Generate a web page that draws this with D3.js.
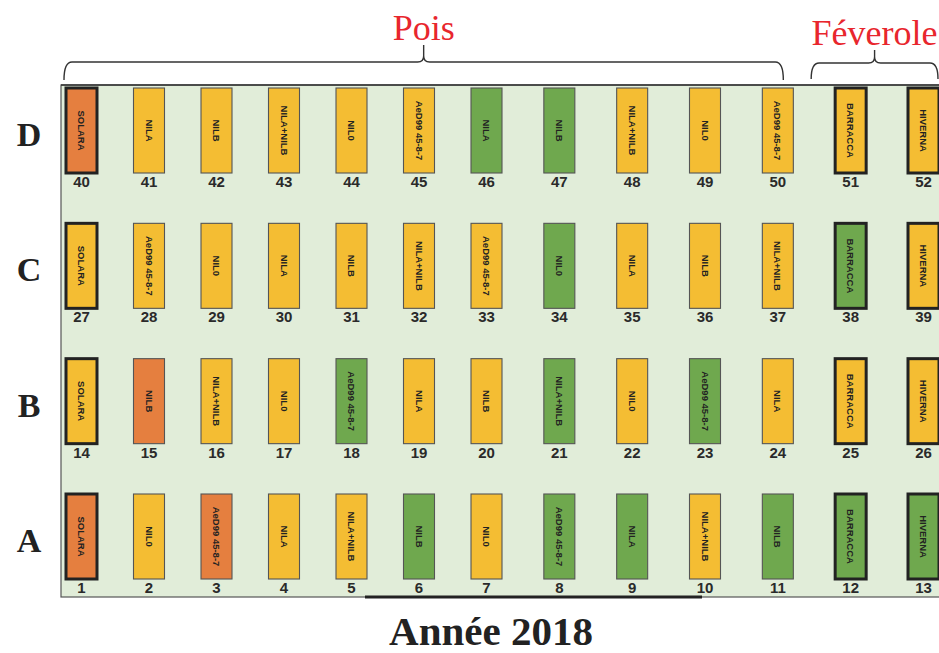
<!DOCTYPE html>
<html>
<head>
<meta charset="utf-8">
<script src="https://cdn.jsdelivr.net/npm/d3@7"></script>
<style>
  body { margin: 0; background: #fff; overflow: hidden; }
</style>
</head>
<body>
<script>
// Rows of the field, top to bottom, and the first plot number of each row
var rowLetters = ["D", "C", "B", "A"];
var firstPlot = [40, 27, 14, 1];

// Variety sown in each plot (13 columns per row)
var varD = ["SOLARA", "NILA", "NILB", "NILA+NILB", "NIL0", "AeD99 45-8-7", "NILA", "NILB", "NILA+NILB", "NIL0", "AeD99 45-8-7", "BARRACCA", "HIVERNA"];
var varC = ["SOLARA", "AeD99 45-8-7", "NIL0", "NILA", "NILB", "NILA+NILB", "AeD99 45-8-7", "NIL0", "NILA", "NILB", "NILA+NILB", "BARRACCA", "HIVERNA"];
var varB = ["SOLARA", "NILB", "NILA+NILB", "NIL0", "AeD99 45-8-7", "NILA", "NILB", "NILA+NILB", "NIL0", "AeD99 45-8-7", "NILA", "BARRACCA", "HIVERNA"];
var varA = ["SOLARA", "NIL0", "AeD99 45-8-7", "NILA", "NILA+NILB", "NILB", "NIL0", "AeD99 45-8-7", "NILA", "NILA+NILB", "NILB", "BARRACCA", "HIVERNA"];

// Colour class of each plot: O = orange, J = jaune, V = vert
var colD = ["O", "J", "J", "J", "J", "J", "V", "V", "J", "J", "J", "J", "J"];
var colC = ["J", "J", "J", "J", "J", "J", "J", "V", "J", "J", "J", "V", "J"];
var colB = ["J", "O", "J", "J", "V", "J", "J", "V", "J", "V", "J", "J", "J"];
var colA = ["O", "J", "O", "J", "J", "V", "J", "V", "V", "J", "V", "V", "V"];

// Check varieties (drawn with a heavy border)
var temoins = ["SOLARA", "BARRACCA", "HIVERNA"];

// Crop groups and the columns they cover
var groups = ["Pois", "Féverole"];
var groupCols = [[0, 10], [11, 12]];

var xTitle = "Année 2018";

var varieties = [varD, varC, varB, varA];
var colours = [colD, colC, colB, colA];

var width = 939, height = 653;
var plotW = 31, plotH = 85;

var svg = d3.select("body").append("svg")
    .attr("width", width)
    .attr("height", height);

// column index -> left edge of plot (columns right of the middle are a bit wider apart)
var x = d3.scaleLinear().domain([0, 6, 12]).range([66, 471, 908]);
var y = d3.scalePoint().domain(rowLetters).range([88, 494]);
var fill = d3.scaleOrdinal().domain(["O", "J", "V"]).range(["#e57f3f", "#f4bd33", "#6fa84e"]);

// field background
svg.append("rect")
    .attr("x", 61).attr("y", 85)
    .attr("width", 900).attr("height", 512)
    .attr("fill", "#e1edd9")
    .attr("stroke", "#555")
    .attr("stroke-width", 1.2);
svg.append("line")
    .attr("x1", 61).attr("x2", 939).attr("y1", 85).attr("y2", 85)
    .attr("stroke", "#333").attr("stroke-width", 1.5);
svg.append("line")
    .attr("x1", 365).attr("x2", 702).attr("y1", 597).attr("y2", 597)
    .attr("stroke", "#222").attr("stroke-width", 2.8);

// flatten plots
var plots = [];
rowLetters.forEach(function(r, i) {
  varieties[i].forEach(function(v, j) {
    plots.push({row: r, col: j, num: firstPlot[i] + j, name: v, cls: colours[i][j]});
  });
});

var g = svg.selectAll("g.plot")
    .data(plots)
  .enter().append("g")
    .attr("class", "plot")
    .attr("transform", function(d) { return "translate(" + x(d.col) + "," + y(d.row) + ")"; });

g.append("rect")
    .attr("width", plotW)
    .attr("height", plotH)
    .attr("fill", function(d) { return fill(d.cls); })
    .attr("stroke", function(d) { return temoins.indexOf(d.name) >= 0 ? "#222" : "#555"; })
    .attr("stroke-width", function(d) { return temoins.indexOf(d.name) >= 0 ? 3 : 1.1; });

g.append("text")
    .attr("transform", "translate(" + plotW / 2 + "," + plotH / 2 + ") rotate(90)")
    .attr("text-anchor", "middle")
    .attr("dominant-baseline", "central")
    .style("font-family", "'Liberation Sans Narrow', 'Arial Narrow', sans-serif")
    .style("font-size", "9.5px")
    .style("font-weight", "bold")
    .attr("fill", "#222")
    .text(function(d) { return d.name; });

g.append("text")
    .attr("x", plotW / 2)
    .attr("y", plotH + 14)
    .attr("text-anchor", "middle")
    .style("font-family", "'Liberation Sans', Arial, sans-serif")
    .style("font-size", "15px")
    .style("font-weight", "bold")
    .attr("fill", "#2a2a2a")
    .text(function(d) { return d.num; });

// row letters
svg.selectAll("text.row")
    .data(rowLetters)
  .enter().append("text")
    .attr("class", "row")
    .attr("x", 29)
    .attr("y", function(d) { return y(d) + plotH / 2 + 4; })
    .attr("text-anchor", "middle")
    .attr("dominant-baseline", "central")
    .style("font-family", "'Liberation Serif', 'Times New Roman', serif")
    .style("font-size", "34px")
    .style("font-weight", "bold")
    .attr("fill", "#222")
    .text(function(d) { return d; });

// braces + group names
function brace(x1, x2, yb, yh, yt) {
  var m = (x1 + x2) / 2;
  return "M" + x1 + "," + yb +
    " Q" + x1 + "," + yh + " " + (x1 + 8) + "," + yh +
    " L" + (m - 6) + "," + yh +
    " Q" + m + "," + yh + " " + m + "," + (yh - 6) +
    " L" + m + "," + yt +
    " M" + m + "," + (yh - 6) +
    " Q" + m + "," + yh + " " + (m + 6) + "," + yh +
    " L" + (x2 - 8) + "," + yh +
    " Q" + x2 + "," + yh + " " + x2 + "," + yb;
}

var braceX = [
  [x(groupCols[0][0]) - 2, x(groupCols[0][1]) + 21],
  [x(groupCols[1][0]) - 24, x(groupCols[1][1]) + 30]
];
var braceY = [[80, 62, 45], [79, 63, 50]];
var titleY = [40, 45];

groups.forEach(function(name, i) {
  var b = braceX[i];
  svg.append("path")
      .attr("d", brace(b[0], b[1], braceY[i][0], braceY[i][1], braceY[i][2]))
      .attr("fill", "none")
      .attr("stroke", "#333")
      .attr("stroke-width", 1.4);
  svg.append("text")
      .attr("x", (b[0] + b[1]) / 2)
      .attr("y", titleY[i])
      .attr("text-anchor", "middle")
      .style("font-family", "'Liberation Serif', 'Times New Roman', serif")
      .style("font-size", "36px")
      .attr("fill", "#e8262d")
      .text(name);
});

// bottom title
svg.append("text")
    .attr("x", 491)
    .attr("y", 645)
    .attr("text-anchor", "middle")
    .style("font-family", "'Liberation Serif', 'Times New Roman', serif")
    .style("font-size", "41px")
    .style("font-weight", "bold")
    .attr("fill", "#222")
    .text(xTitle);
</script>
</body>
</html>
